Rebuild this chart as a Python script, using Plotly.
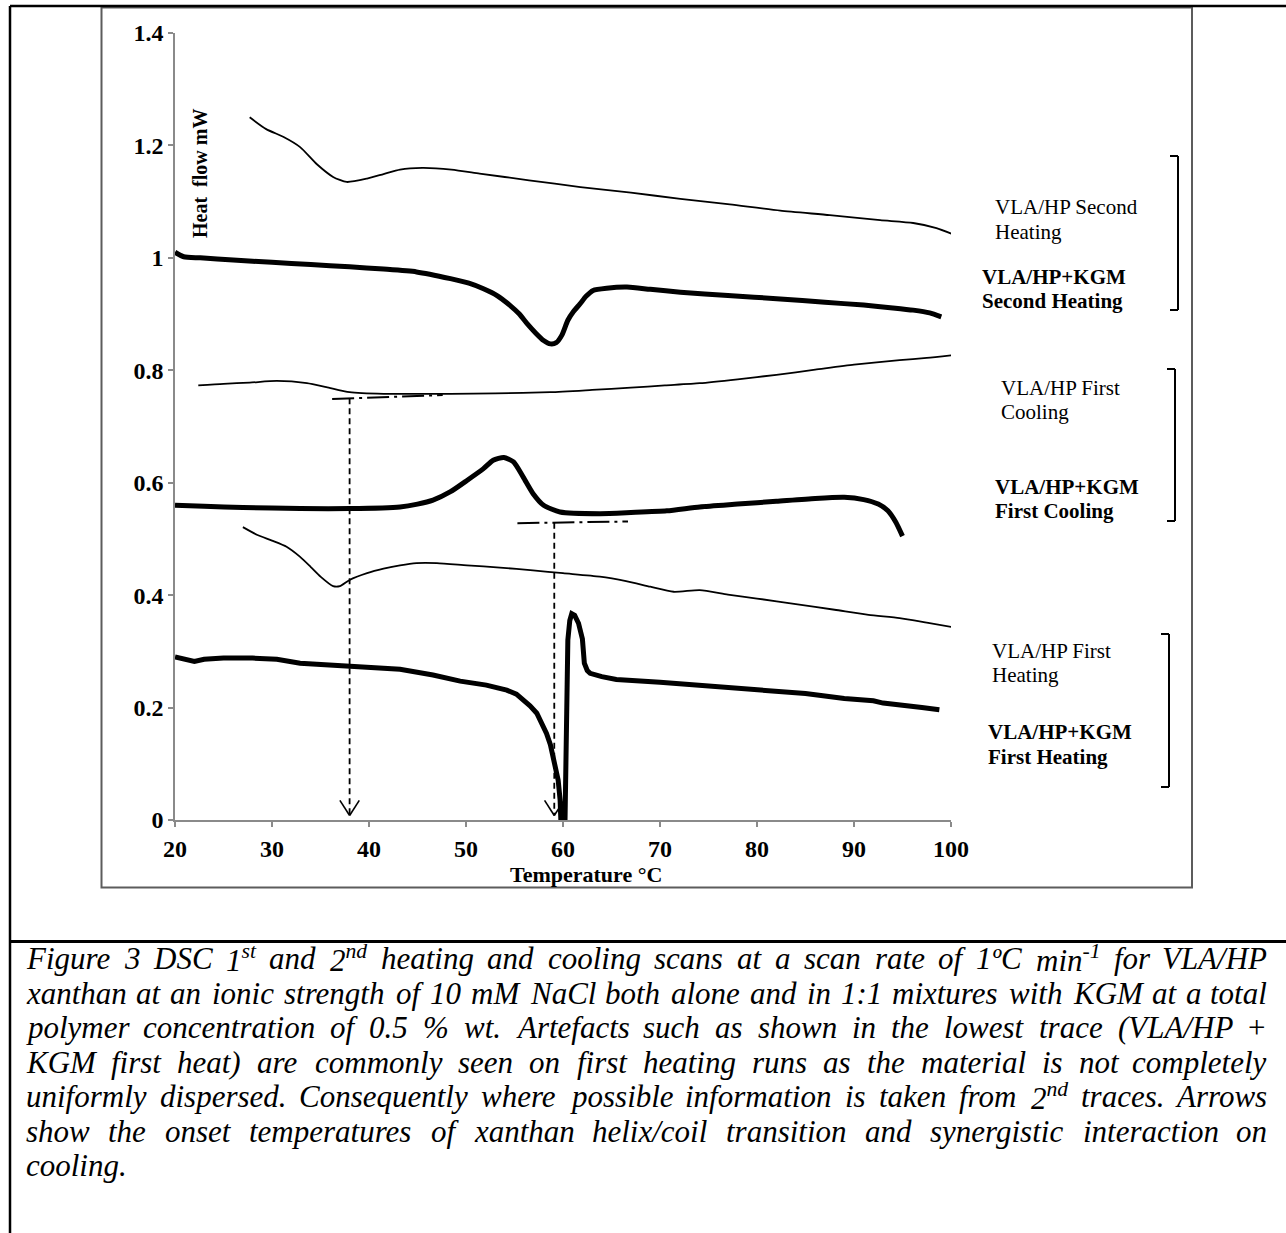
import re
import plotly.graph_objects as go

# ---------------- data ----------------
# VLA/HP second heating (thin)
temp_vla_2h = [27.7, 29.4, 31.2, 32.9, 34.6, 36.3, 37.7, 39.8, 41.5, 43.2, 45.5, 48.5, 51.4, 56.5, 61.8,
               67.0, 72.1, 77.2, 82.4, 87.5, 92.7, 96.1, 98.5, 100.2]
hf_vla_2h = [1.250, 1.229, 1.215, 1.197, 1.167, 1.144, 1.135, 1.141, 1.149, 1.157, 1.160, 1.157, 1.150, 1.138,
             1.126, 1.116, 1.105, 1.095, 1.084, 1.076, 1.067, 1.062, 1.053, 1.042]

# VLA/HP+KGM second heating (thick)
temp_kgm_2h = [20.0, 20.9, 22.6, 26.0, 30.0, 34.0, 38.0, 41.5, 44.9, 48.4, 50.3, 51.8, 53.2, 54.5, 55.5, 56.3,
               57.2, 58.0, 58.7, 59.3, 59.9, 60.5, 61.1, 61.75, 62.4, 63.1, 64.5, 66.6, 69.0, 72.1, 77.0, 82.4,
               87.0, 91.0, 94.0, 96.1, 97.8, 99.0]
hf_kgm_2h = [1.010, 1.002, 1.000, 0.996, 0.992, 0.988, 0.984, 0.980, 0.975, 0.963, 0.955, 0.945, 0.933, 0.916,
             0.900, 0.883, 0.866, 0.853, 0.847, 0.849, 0.863, 0.889, 0.905, 0.918, 0.932, 0.942, 0.946, 0.948,
             0.944, 0.939, 0.933, 0.927, 0.921, 0.916, 0.911, 0.907, 0.902, 0.895]

# VLA/HP first cooling (thin)
temp_vla_1c = [22.4, 25.0, 27.7, 30.5, 33.6, 35.6, 38.0, 41.5, 45.0, 48.4, 53.0, 58.7, 63.0, 67.0, 70.5, 74.1,
               78.0, 82.0, 86.0, 90.0, 94.7, 97.5, 100.2]
hf_vla_1c = [0.773, 0.776, 0.778, 0.781, 0.777, 0.770, 0.761, 0.758, 0.758, 0.758, 0.759, 0.761, 0.765, 0.769,
             0.773, 0.777, 0.784, 0.792, 0.801, 0.810, 0.818, 0.822, 0.827]

# VLA/HP+KGM first cooling (thick)
temp_kgm_1c = [20.0, 23.0, 27.0, 32.9, 38.0, 43.2, 45.0, 46.6, 48.4, 50.1, 51.8, 52.8, 53.9, 54.9, 55.9, 56.9,
               58.0, 59.7, 63.8, 67.0, 70.7, 74.1, 78.0, 82.0, 86.0, 89.0, 91.0, 92.5, 93.5, 94.3, 95.0]
hf_kgm_1c = [0.560, 0.558, 0.556, 0.554, 0.554, 0.557, 0.562, 0.569, 0.584, 0.604, 0.625, 0.640, 0.645, 0.637,
             0.610, 0.581, 0.560, 0.548, 0.545, 0.547, 0.550, 0.557, 0.562, 0.567, 0.572, 0.574, 0.570, 0.562,
             0.550, 0.530, 0.505]

# VLA/HP first heating (thin)
temp_vla_1h = [27.0, 28.5, 30.0, 31.5, 32.9, 34.0, 35.0, 36.3, 37.0, 38.0, 39.8, 41.5, 43.2, 44.9, 47.0, 50.1,
               53.5, 56.9, 60.0, 63.8, 66.5, 69.0, 71.4, 74.1, 77.0, 80.0, 84.0, 88.0, 91.5, 94.7, 97.5, 100.2]
hf_vla_1h = [0.521, 0.507, 0.497, 0.486, 0.468, 0.450, 0.433, 0.416, 0.416, 0.427, 0.439, 0.447, 0.453, 0.457,
             0.457, 0.453, 0.449, 0.444, 0.439, 0.433, 0.425, 0.415, 0.406, 0.409, 0.401, 0.394, 0.384, 0.374,
             0.365, 0.359, 0.351, 0.343]

# VLA/HP+KGM first heating (thick, with artefact)
temp_kgm_1h = [20.0, 21.0, 22.0, 23.0, 25.0, 28.0, 30.5, 32.9, 38.0, 43.2, 46.6, 49.4, 52.1, 54.2, 55.2, 55.9,
               56.6, 57.3, 57.8, 58.3, 58.7, 59.0, 59.3, 59.5, 59.7, 59.8, 60.2, 60.3, 60.4, 60.5, 60.7, 60.9,
               61.2, 61.6, 62.0, 62.2, 62.5, 62.8, 64.0, 65.5, 70.0, 74.1, 80.0, 85.0, 89.0, 91.0, 92.0, 93.0,
               95.0, 97.0, 98.8]
hf_kgm_1h = [0.290, 0.286, 0.282, 0.286, 0.288, 0.288, 0.286, 0.279, 0.274, 0.268, 0.258, 0.247, 0.240, 0.231,
             0.224, 0.214, 0.203, 0.190, 0.174, 0.154, 0.134, 0.113, 0.090, 0.071, 0.036, -0.010, -0.010, 0.150,
             0.249, 0.320, 0.355, 0.367, 0.364, 0.350, 0.322, 0.279, 0.266, 0.261, 0.255, 0.250, 0.245, 0.240,
             0.233, 0.225, 0.216, 0.214, 0.212, 0.208, 0.203, 0.200, 0.196]

# onset arrows
onset_temp = [38.0, 59.1]
baseline_t0 = [36.2, 55.3]
baseline_t1 = [47.6, 66.7]
baseline_v0 = [0.749, 0.528]
baseline_v1 = [0.756, 0.531]
arrow_tip_hf = 0.008

x_tick_vals = [20, 30, 40, 50, 60, 70, 80, 90, 100]
y_tick_vals = [0, 0.2, 0.4, 0.6, 0.8, 1.0, 1.2, 1.4]
y_tick_text = ["0", "0.2", "0.4", "0.6", "0.8", "1", "1.2", "1.4"]

x_title = "Temperature °C"
y_title = "Heat\u00a0 flow mW"

series_labels = [
    ("VLA/HP Second", False), ("Heating", False),
    ("VLA/HP+KGM", True), ("Second Heating", True),
    ("VLA/HP First", False), ("Cooling", False),
    ("VLA/HP+KGM", True), ("First Cooling", True),
    ("VLA/HP First", False), ("Heating", False),
    ("VLA/HP+KGM", True), ("First Heating", True),
]

caption_lines = [
    "Figure 3 DSC 1<sup>st</sup> and 2<sup>nd</sup> heating and cooling scans at a scan rate of 1ºC min<sup>-1</sup> for VLA/HP",
    "xanthan at an ionic strength of 10 mM NaCl both alone and in 1:1 mixtures with KGM at a total",
    "polymer concentration of 0.5 % wt. Artefacts such as shown in the lowest trace (VLA/HP +",
    "KGM first heat) are commonly seen on first heating runs as the material is not completely",
    "uniformly dispersed. Consequently where possible information is taken from 2<sup>nd</sup> traces. Arrows",
    "show the onset temperatures of xanthan helix/coil transition and synergistic interaction on",
    "cooling.",
]

# ---------------- layout geometry (pixels) ----------------
W, H = 1286, 1233
ML, MR, MT, MB = 175, 335, 33, 413
PW = W - ML - MR
PH = H - MT - MB
PB = H - MB


def xp(px):
    return (px - ML) / PW


def yp(py):
    return (PB - py) / PH


SERIF = "Liberation Serif, Times New Roman, serif"
AXIS_GREY = "#8a8a8a"

fig = go.Figure()

thin = dict(color="black", width=1.8, shape="spline", smoothing=0.6)
thick = dict(color="black", width=5, shape="spline", smoothing=0.6)

fig.add_trace(go.Scatter(x=temp_vla_2h, y=hf_vla_2h, mode="lines", line=thin, name="VLA/HP Second Heating"))
fig.add_trace(go.Scatter(x=temp_kgm_2h, y=hf_kgm_2h, mode="lines", line=thick, name="VLA/HP+KGM Second Heating"))
fig.add_trace(go.Scatter(x=temp_vla_1c, y=hf_vla_1c, mode="lines", line=thin, name="VLA/HP First Cooling"))
fig.add_trace(go.Scatter(x=temp_kgm_1c, y=hf_kgm_1c, mode="lines", line=thick, name="VLA/HP+KGM First Cooling"))
fig.add_trace(go.Scatter(x=temp_vla_1h, y=hf_vla_1h, mode="lines", line=thin, name="VLA/HP First Heating"))
fig.add_trace(go.Scatter(x=temp_kgm_1h, y=hf_kgm_1h, mode="lines",
                         line=dict(color="black", width=5, shape="linear"), name="VLA/HP+KGM First Heating"))

shapes = []
# onset arrows: dash-dot baselines, dashed verticals, open arrow heads
HEAD_DX = 1.0
HEAD_DY = 0.027
for t, a0, a1, v0, v1 in zip(onset_temp, baseline_t0, baseline_t1, baseline_v0, baseline_v1):
    shapes.append(dict(type="line", xref="x", yref="y", x0=a0, x1=a1, y0=v0, y1=v1,
                       line=dict(color="black", width=2, dash="22px,5px,3px,5px")))
    vtop = v0 + (v1 - v0) * (t - a0) / (a1 - a0)
    shapes.append(dict(type="line", xref="x", yref="y", x0=t, x1=t, y0=vtop, y1=arrow_tip_hf,
                       line=dict(color="black", width=1.8, dash="6px,4px")))
    for s in (-1, 1):
        shapes.append(dict(type="line", xref="x", yref="y", x0=t + s * HEAD_DX, y0=arrow_tip_hf + HEAD_DY,
                           x1=t, y1=arrow_tip_hf, line=dict(color="black", width=1.6)))


def pline(x0, y0, x1, y1, color="black", width=2):
    return dict(type="line", xref="paper", yref="paper", x0=xp(x0), y0=yp(y0), x1=xp(x1), y1=yp(y1),
                line=dict(color=color, width=width), layer="above")


# frames
shapes.append(pline(10, 6, 1286, 6, width=2.5))
shapes.append(pline(10, 6, 10, 1233, width=2.5))
shapes.append(pline(10, 941.5, 1286, 941.5, width=3))
shapes.append(dict(type="rect", xref="paper", yref="paper", x0=xp(101.5), x1=xp(1192), y0=yp(887.5), y1=yp(7.5),
                   line=dict(color="#5c5c5c", width=2), layer="below"))
# brackets
for bx, btop, bbot, blen in [(1178, 156, 310, 8), (1175, 369, 521, 8), (1169, 634, 787, 8)]:
    shapes.append(pline(bx, btop, bx, bbot, width=2))
    shapes.append(pline(bx - blen, btop, bx, btop, width=2))
    shapes.append(pline(bx - blen, bbot, bx, bbot, width=2))

annotations = []
# axis titles
annotations.append(dict(text="<b>" + x_title + "</b>", xref="paper", yref="paper", x=xp(586), y=yp(874),
                        xanchor="center", yanchor="middle", showarrow=False,
                        font=dict(family=SERIF, size=22, color="black")))
annotations.append(dict(text="<b>" + y_title + "</b>", xref="paper", yref="paper", x=xp(200), y=yp(174),
                        xanchor="center", yanchor="middle", textangle=-90, showarrow=False,
                        font=dict(family=SERIF, size=20, color="black")))

# series labels
label_pos = [(993, 207), (993, 232), (980, 277), (980, 301), (999, 388), (999, 412),
             (993, 487), (993, 511), (990, 651), (990, 675), (986, 732), (986, 757)]
for (txt, bold), (lx, ly) in zip(series_labels, label_pos):
    annotations.append(dict(text=("<b>%s</b>" % txt) if bold else txt, xref="paper", yref="paper",
                            x=xp(lx), y=yp(ly), xanchor="left", yanchor="middle", showarrow=False,
                            font=dict(family=SERIF, size=21, color="black")))

# caption, justified word by word
TI = {' ': 250, '%': 833, '(': 333, ')': 333, '+': 675, ',': 250, '-': 333, '.': 250, '/': 278, ':': 333,
      'A': 611, 'B': 611, 'C': 667, 'D': 722, 'E': 611, 'F': 611, 'G': 722, 'H': 722, 'I': 333, 'J': 444,
      'K': 667, 'L': 556, 'M': 833, 'N': 667, 'O': 722, 'P': 611, 'Q': 722, 'R': 611, 'S': 500, 'T': 556,
      'U': 722, 'V': 611, 'W': 833, 'X': 611, 'Y': 556, 'Z': 556, 'a': 500, 'b': 500, 'c': 444, 'd': 500,
      'e': 444, 'f': 278, 'g': 500, 'h': 500, 'i': 278, 'j': 278, 'k': 444, 'l': 278, 'm': 722, 'n': 500,
      'o': 500, 'p': 500, 'q': 500, 'r': 389, 's': 389, 't': 278, 'u': 500, 'v': 444, 'w': 667, 'x': 444,
      'y': 444, 'z': 389, 'º': 310}


def word_w(s, size):
    total = 0.0
    for part in re.split(r'(<sup>.*?</sup>)', s):
        if part.startswith('<sup>'):
            total += 0.7 * sum(TI.get(c, 500) for c in part[5:-6])
        else:
            total += sum(TI.get(c, 500) for c in part)
    return total * size / 1000.0


CAP_SIZE = 31
CAP_LEFT, CAP_RIGHT = 25, 1268
CAP_BASE0, CAP_STEP = 969, 34.5
for i, line in enumerate(caption_lines):
    base = CAP_BASE0 + i * CAP_STEP
    cy = base - 0.337 * CAP_SIZE
    cfont = dict(family=SERIF, size=CAP_SIZE, color="black")
    if i == len(caption_lines) - 1:
        annotations.append(dict(text="<i>%s</i>" % line, xref="paper", yref="paper", x=xp(CAP_LEFT - 1),
                                y=yp(cy), xanchor="left", yanchor="middle", showarrow=False, font=cfont))
        continue
    words = line.split(' ')
    widths = [word_w(w, CAP_SIZE) for w in words]
    gap = (CAP_RIGHT - CAP_LEFT - sum(widths)) / (len(words) - 1)
    xcur = CAP_LEFT
    for j, (wd, wwid) in enumerate(zip(words, widths)):
        if j == len(words) - 1:
            annotations.append(dict(text="<i>%s</i>" % wd, xref="paper", yref="paper", x=xp(CAP_RIGHT + 1),
                                    y=yp(cy), xanchor="right", yanchor="middle", showarrow=False, font=cfont))
        else:
            annotations.append(dict(text="<i>%s</i>" % wd, xref="paper", yref="paper", x=xp(xcur - 1),
                                    y=yp(cy), xanchor="left", yanchor="middle", showarrow=False, font=cfont))
        xcur += wwid + gap

fig.update_layout(
    width=W, height=H, autosize=False,
    margin=dict(l=ML, r=MR, t=MT, b=MB, pad=0),
    paper_bgcolor="white", plot_bgcolor="white",
    showlegend=False,
    shapes=shapes, annotations=annotations,
    font=dict(family=SERIF, color="black", size=16),
)
fig.update_xaxes(range=[20, 100], tickvals=x_tick_vals, ticktext=["<b>%d</b>" % v for v in x_tick_vals],
                 showline=True, linecolor=AXIS_GREY, linewidth=1.5, ticks="outside", ticklen=5, tickwidth=1.5,
                 tickcolor=AXIS_GREY, showgrid=False, zeroline=False, ticklabelstandoff=1,
                 tickfont=dict(family=SERIF, size=24, color="black"))
fig.update_yaxes(range=[0, 1.4], tickvals=y_tick_vals, ticktext=["<b>%s</b>" % t for t in y_tick_text],
                 showline=True, linecolor=AXIS_GREY, linewidth=1.5, ticks="outside", ticklen=5, tickwidth=1.5,
                 tickcolor=AXIS_GREY, showgrid=False, zeroline=False,
                 tickfont=dict(family=SERIF, size=24, color="black"))

fig.write_html("out.html")
